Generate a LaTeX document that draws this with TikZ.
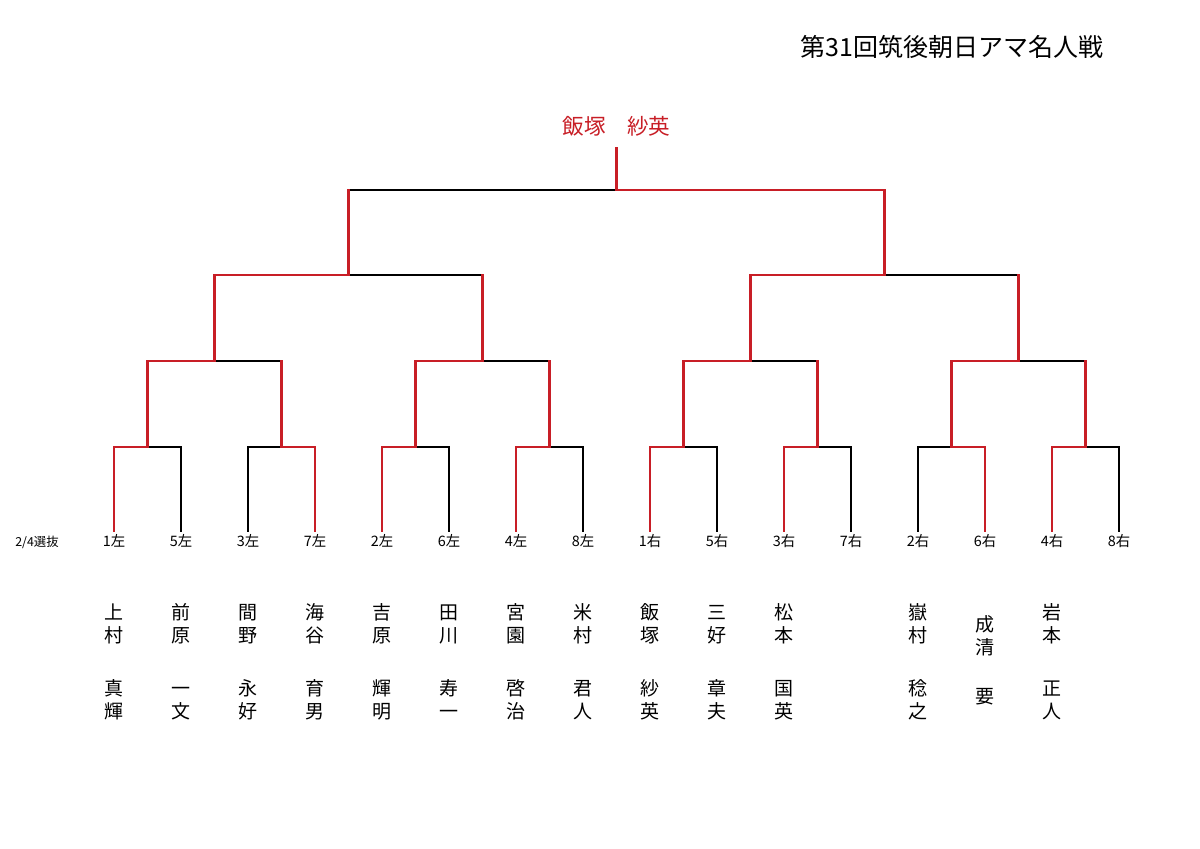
\documentclass[tikz,border=0pt]{standalone}
\usepackage{fontspec}
\setmainfont{Noto Sans CJK JP}
\definecolor{wred}{RGB}{200,30,38}
\begin{document}
\begin{tikzpicture}[x=0.5pt,y=-0.5pt,
  win/.style={draw=wred,line width=1.35pt,line cap=rect},
  lose/.style={draw=black,line width=1.35pt,line cap=rect},
  leaf/.style={font=\fontsize{7.2}{8}\selectfont,inner sep=0pt,minimum height=10pt},
  pname/.style={font=\fontsize{9.5}{11.5}\selectfont,align=center,inner sep=0pt,text height=8.4pt,text depth=1.6pt},
  champ/.style={font=\fontsize{10.8}{12}\selectfont,text=wred,inner sep=0pt,minimum height=22pt},
  titlestyle/.style={font=\fontsize{12.5}{14}\selectfont,inner sep=0pt,anchor=west},
  note/.style={font=\fontsize{6.2}{7}\selectfont,inner sep=0pt}]
\useasboundingbox[fill=white] (0,0) rectangle (1200,848);

% title
\node[titlestyle] (title) at (800,47) {第31回筑後朝日アマ名人戦};
\node[champ] (champ) at (616.5,126) {飯塚　紗英};
\node[note] (sel) at (37,542) {2/4選抜};

% leaves
\node[leaf] (p1) at (114,541) {1左};
\node[leaf] (p2) at (181,541) {5左};
\node[leaf] (p3) at (248,541) {3左};
\node[leaf] (p4) at (315,541) {7左};
\node[leaf] (p5) at (382,541) {2左};
\node[leaf] (p6) at (449,541) {6左};
\node[leaf] (p7) at (516,541) {4左};
\node[leaf] (p8) at (583,541) {8左};
\node[leaf] (p9) at (650,541) {1右};
\node[leaf] (p10) at (717,541) {5右};
\node[leaf] (p11) at (784,541) {3右};
\node[leaf] (p12) at (851,541) {7右};
\node[leaf] (p13) at (918,541) {2右};
\node[leaf] (p14) at (985,541) {6右};
\node[leaf] (p15) at (1052,541) {4右};
\node[leaf] (p16) at (1119,541) {8右};

% junctions
\coordinate (r1) at (147.5,447);
\coordinate (r2) at (281.5,447);
\coordinate (r3) at (415.5,447);
\coordinate (r4) at (549.5,447);
\coordinate (r5) at (683.5,447);
\coordinate (r6) at (817.5,447);
\coordinate (r7) at (951.5,447);
\coordinate (r8) at (1085.5,447);
\coordinate (s1) at (214.5,361);
\coordinate (s2) at (482.5,361);
\coordinate (s3) at (750.5,361);
\coordinate (s4) at (1018.5,361);
\coordinate (t1) at (348.5,275);
\coordinate (t2) at (884.5,275);
\coordinate (f) at (616.5,190);

% round 1 (losers first)
\draw[lose] (p2.north) |- (r1);
\draw[lose] (p3.north) |- (r2);
\draw[lose] (p6.north) |- (r3);
\draw[lose] (p8.north) |- (r4);
\draw[lose] (p10.north) |- (r5);
\draw[lose] (p12.north) |- (r6);
\draw[lose] (p13.north) |- (r7);
\draw[lose] (p16.north) |- (r8);
\draw[win] (p1.north) |- (r1);
\draw[win] (p4.north) |- (r2);
\draw[win] (p5.north) |- (r3);
\draw[win] (p7.north) |- (r4);
\draw[win] (p9.north) |- (r5);
\draw[win] (p11.north) |- (r6);
\draw[win] (p14.north) |- (r7);
\draw[win] (p15.north) |- (r8);

% round 2
\draw[lose] (r2 |- s1) -- (s1);
\draw[lose] (r4 |- s2) -- (s2);
\draw[lose] (r6 |- s3) -- (s3);
\draw[lose] (r8 |- s4) -- (s4);
\draw[win] (r2) -- (r2 |- s1);
\draw[win] (r4) -- (r4 |- s2);
\draw[win] (r6) -- (r6 |- s3);
\draw[win] (r8) -- (r8 |- s4);
\draw[win] (r1) |- (s1);
\draw[win] (r3) |- (s2);
\draw[win] (r5) |- (s3);
\draw[win] (r7) |- (s4);

% round 3
\draw[lose] (s2 |- t1) -- (t1);
\draw[lose] (s4 |- t2) -- (t2);
\draw[win] (s2) -- (s2 |- t1);
\draw[win] (s4) -- (s4 |- t2);
\draw[win] (s1) |- (t1);
\draw[win] (s3) |- (t2);

% final
\draw[lose] (t1 |- f) -- (f);
\draw[win] (t1) -- (t1 |- f);
\draw[win] (t2) |- (f);
\draw[win] (f) -- (champ.south);

% player names
\node[pname] (n1a) at (114,635.5) {上\\村};
\node[pname] (n1b) at (114,712) {真\\輝};
\node[pname] (n2a) at (181,635.5) {前\\原};
\node[pname] (n2b) at (181,712) {一\\文};
\node[pname] (n3a) at (248,635.5) {間\\野};
\node[pname] (n3b) at (248,712) {永\\好};
\node[pname] (n4a) at (315,635.5) {海\\谷};
\node[pname] (n4b) at (315,712) {育\\男};
\node[pname] (n5a) at (382,635.5) {吉\\原};
\node[pname] (n5b) at (382,712) {輝\\明};
\node[pname] (n6a) at (449,635.5) {田\\川};
\node[pname] (n6b) at (449,712) {寿\\一};
\node[pname] (n7a) at (516,635.5) {宮\\園};
\node[pname] (n7b) at (516,712) {啓\\治};
\node[pname] (n8a) at (583,635.5) {米\\村};
\node[pname] (n8b) at (583,712) {君\\人};
\node[pname] (n9a) at (650,635.5) {飯\\塚};
\node[pname] (n9b) at (650,712) {紗\\英};
\node[pname] (n10a) at (717,635.5) {三\\好};
\node[pname] (n10b) at (717,712) {章\\夫};
\node[pname] (n11a) at (784,635.5) {松\\本};
\node[pname] (n11b) at (784,712) {国\\英};
\node[pname] (n13a) at (918,635.5) {嶽\\村};
\node[pname] (n13b) at (918,712) {稔\\之};
\node[pname] (n14a) at (985,648) {成\\清};
\node[pname] (n14b) at (985,697) {要};
\node[pname] (n15a) at (1052,635.5) {岩\\本};
\node[pname] (n15b) at (1052,712) {正\\人};
\end{tikzpicture}
\end{document}
